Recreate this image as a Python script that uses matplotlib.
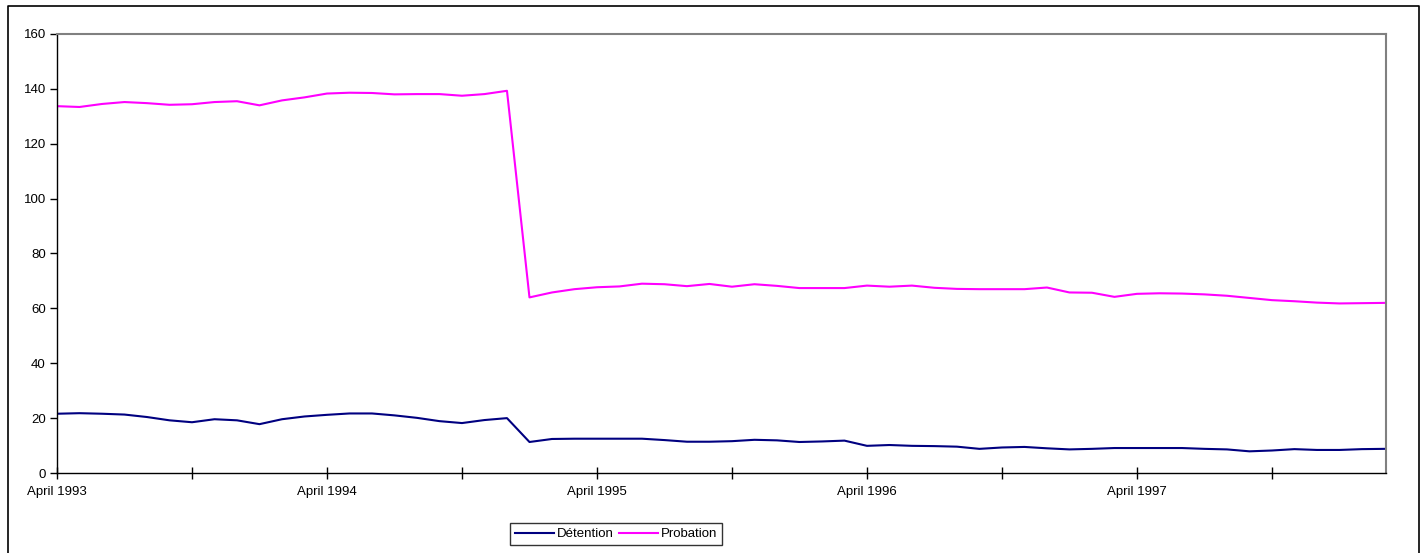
import numpy as np
import matplotlib.pyplot as plt
from matplotlib.lines import Line2D

plt.rcParams['font.family'] = ['Liberation Sans', 'DejaVu Sans']

# monthly values, April 1993 .. March 1998
mois = np.arange(60)
detention = [21.6, 21.8, 21.6, 21.3, 20.4, 19.2, 18.5, 19.6, 19.2, 17.8,
             19.6, 20.6, 21.2, 21.7, 21.7, 21.0, 20.1, 18.9, 18.2, 19.3,
             20.0, 11.3, 12.4, 12.5, 12.5, 12.5, 12.5, 12.0, 11.4, 11.4,
             11.6, 12.1, 11.9, 11.3, 11.5, 11.8, 9.9, 10.2, 9.9, 9.8,
             9.6, 8.8, 9.3, 9.5, 9.0, 8.6, 8.8, 9.1, 9.1, 9.1,
             9.1, 8.8, 8.6, 7.9, 8.2, 8.7, 8.4, 8.4, 8.7, 8.8]
probation = [133.7, 133.4, 134.5, 135.2, 134.8, 134.2, 134.4, 135.2, 135.5, 134.0,
             135.8, 136.9, 138.3, 138.6, 138.5, 138.0, 138.1, 138.1, 137.5, 138.1,
             139.3, 64.0, 65.8, 67.0, 67.7, 68.0, 69.0, 68.8, 68.1, 68.9,
             67.9, 68.8, 68.2, 67.4, 67.4, 67.4, 68.3, 67.9, 68.3, 67.5,
             67.1, 67.0, 67.0, 67.0, 67.6, 65.8, 65.7, 64.2, 65.3, 65.5,
             65.4, 65.1, 64.6, 63.8, 63.0, 62.6, 62.1, 61.8, 61.9, 62.0]
tick_pos = np.arange(0, 60, 6)
tick_lab = ['April 1993', '', 'April 1994', '', 'April 1995', '',
            'April 1996', '', 'April 1997', '']

fig = plt.figure(figsize=(14.24, 5.53), dpi=100)
ax = fig.add_axes([57 / 1424, 1 - 473 / 553, 1329 / 1424, 439 / 553])

ax.plot(mois, detention, color='#000080', lw=1.5, solid_joinstyle='round',
        label='Détention')
ax.plot(mois, probation, color='#FF00FF', lw=1.5, solid_joinstyle='round',
        label='Probation')

ax.set_xlim(0, 59.07)
ax.set_ylim(0, 160)
ax.set_yticks(np.arange(0, 161, 20))
ax.set_xticks(tick_pos)
ax.set_xticklabels(tick_lab)
ax.tick_params(axis='y', direction='out', length=5, width=1, labelsize=9.5,
               pad=3)
ax.tick_params(axis='x', direction='inout', length=9, width=1, labelsize=9.5,
               pad=5)

for s in ['top', 'right']:
    ax.spines[s].set_color('#808080')
    ax.spines[s].set_linewidth(1.5)
for s in ['left', 'bottom']:
    ax.spines[s].set_color('black')
    ax.spines[s].set_linewidth(1)

leg = fig.legend(loc='center', bbox_to_anchor=(616 / 1424, 1 - 534 / 553),
                 ncol=2, fontsize=9.5, frameon=True, fancybox=False,
                 edgecolor='black', handlelength=3, handletextpad=0.2,
                 columnspacing=0.4, borderpad=0.35, borderaxespad=0)
leg.get_frame().set_linewidth(1)

# outer chart border
fig.add_artist(Line2D([8 / 1424, 8 / 1424, 1419 / 1424, 1419 / 1424],
                      [-0.01, 1 - 6 / 553, 1 - 6 / 553, -0.01],
                      color='black', lw=1.2, transform=fig.transFigure))

fig.savefig('out.png', dpi=100)
